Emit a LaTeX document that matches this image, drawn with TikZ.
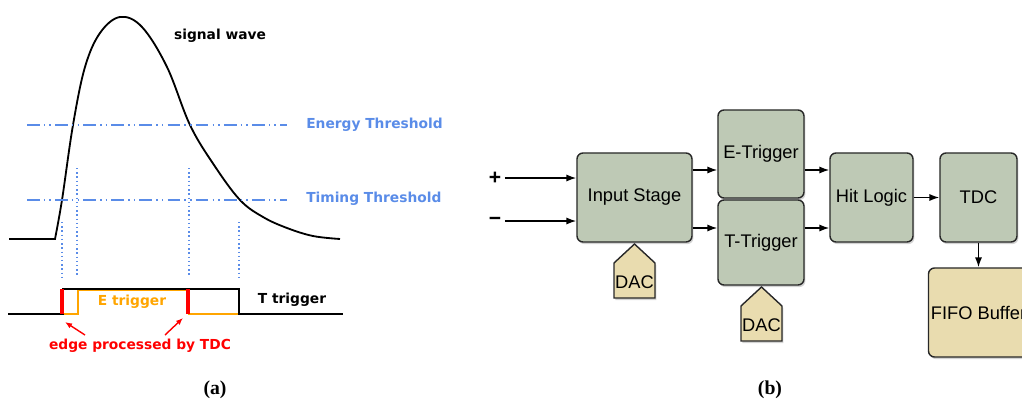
\documentclass[tikz,border=0pt]{standalone}
\usepackage{fontspec}
\setmainfont{Liberation Serif}
\setsansfont{Liberation Sans}
\newfontfamily\wavefont{DejaVu Sans}
\usetikzlibrary{positioning,arrows.meta,shadows}
\definecolor{thrblue}{RGB}{90,140,232}
\definecolor{trigorange}{RGB}{255,165,0}
\definecolor{blockgreen}{RGB}{190,201,181}
\definecolor{dacbeige}{RGB}{233,220,175}
\definecolor{blockline}{RGB}{40,40,40}

\begin{document}
\begin{tikzpicture}[x=0.025cm,y=-0.025cm,
        wavetext/.style={font=\wavefont\bfseries\fontsize{9.8}{11}\selectfont,inner sep=0pt},
        thresh/.style={thrblue,line width=1pt,dash pattern=on 9pt off 3pt on 1pt off 3pt on 1pt off 3pt},
        guide/.style={thrblue,line width=1pt,dotted},
        arr/.style={-{Latex[length=7pt,width=5pt]},line width=1pt},
        block/.style={draw=blockline,line width=1pt,rounded corners=4.3pt,fill=blockgreen,
            drop shadow={opacity=0.35,shadow xshift=1pt,shadow yshift=-1.5pt},
            font=\sffamily\fontsize{13}{15}\selectfont,inner sep=0pt},
        dacshape/.style={draw=blockline,line width=1pt,fill=dacbeige,
            drop shadow={opacity=0.35,shadow xshift=1pt,shadow yshift=-1.5pt}},
        dactext/.style={font=\sffamily\fontsize{13}{15}\selectfont,inner sep=0pt}]
        \useasboundingbox (0,0) rectangle (1022,401);

        % (a) signal wave and thresholds
        \draw[line width=1.3pt] (9,239) -- plot[smooth,tension=0.6] coordinates {(55,239) (62,200) (73,125) (85,67) (100,33) (120,17) (142,27) (167,67) (190,125) (214,165) (240,200) (263,217) (287,228) (313,236) (340,239)};
        \node[wavetext] (wave) at (220,36) {signal wave};
        \draw[thresh] (27,125) -- (287,125);
        \draw[thresh] (27,200) -- (287,200);
        \node[wavetext,thrblue,anchor=west] (elbl) at (306,125) {Energy Threshold};
        \node[wavetext,thrblue,anchor=west] (tlbl) at (306,199) {Timing Threshold};
        \foreach \x/\ya in {62/222, 77/168, 189/168, 239/222} {
            \draw[guide] (\x,\ya) -- (\x,277);
        }

        % (a) trigger pulses
        \draw[trigorange,line width=1pt] (63,314) -- (78,314) -- (78,290) -- (189,290) -- (189,314) -- (239,314);
        \draw[line width=1pt] (8,314) -- (63,314) -- (63,289) -- (239,289) -- (239,314) -- (343,314);
        \draw[red,line width=2.8pt] (62,289) -- (62,314);
        \draw[red,line width=2.8pt] (188,289) -- (188,314);
        \node[wavetext,trigorange] (elabel) at (132,302) {E trigger};
        \node[wavetext] (tlabel) at (292,300) {T trigger};
        \node[wavetext,red] (edge) at (140,346) {edge processed by TDC};
        \coordinate (edgeL) at (65,322);
        \coordinate (edgeR) at (183,318);
        \coordinate (tailL) at (85,335);
        \coordinate (tailR) at (165,335);
        \draw[red,-{Latex[length=5pt,width=4pt]},line width=1pt] (tailL) -- (edgeL);
        \draw[red,-{Latex[length=5pt,width=4pt]},line width=1pt] (tailR) -- (edgeR);

        % (b) block diagram
        \node[block,minimum width=2.875cm,minimum height=2.225cm] (inp) at (634.5,197.5) {Input Stage};
        \node[block,minimum width=2.15cm,minimum height=2.2cm] (etrig) at (761,154) {E-Trigger};
        \node[block,minimum width=2.15cm,minimum height=2.125cm] (ttrig) at (761,242.5) {T-Trigger};
        \node[block,minimum width=2.075cm,minimum height=2.225cm] (hit) at (871.5,197.5) {Hit Logic};
        \node[block,minimum width=1.925cm,minimum height=2.225cm] (tdc) at (978.5,197.5) {TDC};
        \node[block,fill=dacbeige,minimum width=2.5cm,minimum height=2.225cm] (fifo) at (978.5,312.5) {FIFO Buffer};
        \foreach \cx/\ty/\nm in {634.5/244/dacin, 761.5/287/dactrig} {
            \draw[dacshape] (\cx,\ty) -- (\cx+20.5,\ty+19) -- (\cx+20.5,\ty+54) -- (\cx-20.5,\ty+54) -- (\cx-20.5,\ty+19) -- cycle;
            \node[dactext] (\nm) at (\cx,\ty+38) {DAC};
        }

        \node[dactext,font=\sffamily\bfseries\fontsize{15}{17}\selectfont,inner sep=2.5pt] (plus) at (495,178) {+};
        \node[dactext,font=\sffamily\bfseries\fontsize{15}{17}\selectfont,inner sep=2.5pt] (minus) at (495,221) {−};
        \coordinate (eline) at (0,170);
        \coordinate (tline) at (0,228);
        \draw[arr] (plus) -- (inp.west |- plus);
        \draw[arr] (minus) -- (inp.west |- minus);
        \draw[arr] (inp.east |- eline) -- (etrig.west |- eline);
        \draw[arr] (inp.east |- tline) -- (ttrig.west |- tline);
        \draw[arr] (etrig.east |- eline) -- (hit.west |- eline);
        \draw[arr] (ttrig.east |- tline) -- (hit.west |- tline);
        \draw[arr] (hit) -- (tdc);
        \draw[arr] (tdc) -- (fifo);

        % captions
        \node[font=\bfseries\fontsize{14}{16}\selectfont] (capa) at (215,390) {(a)};
        \node[font=\bfseries\fontsize{14}{16}\selectfont] (capb) at (770,390) {(b)};
\end{tikzpicture}
\end{document}
